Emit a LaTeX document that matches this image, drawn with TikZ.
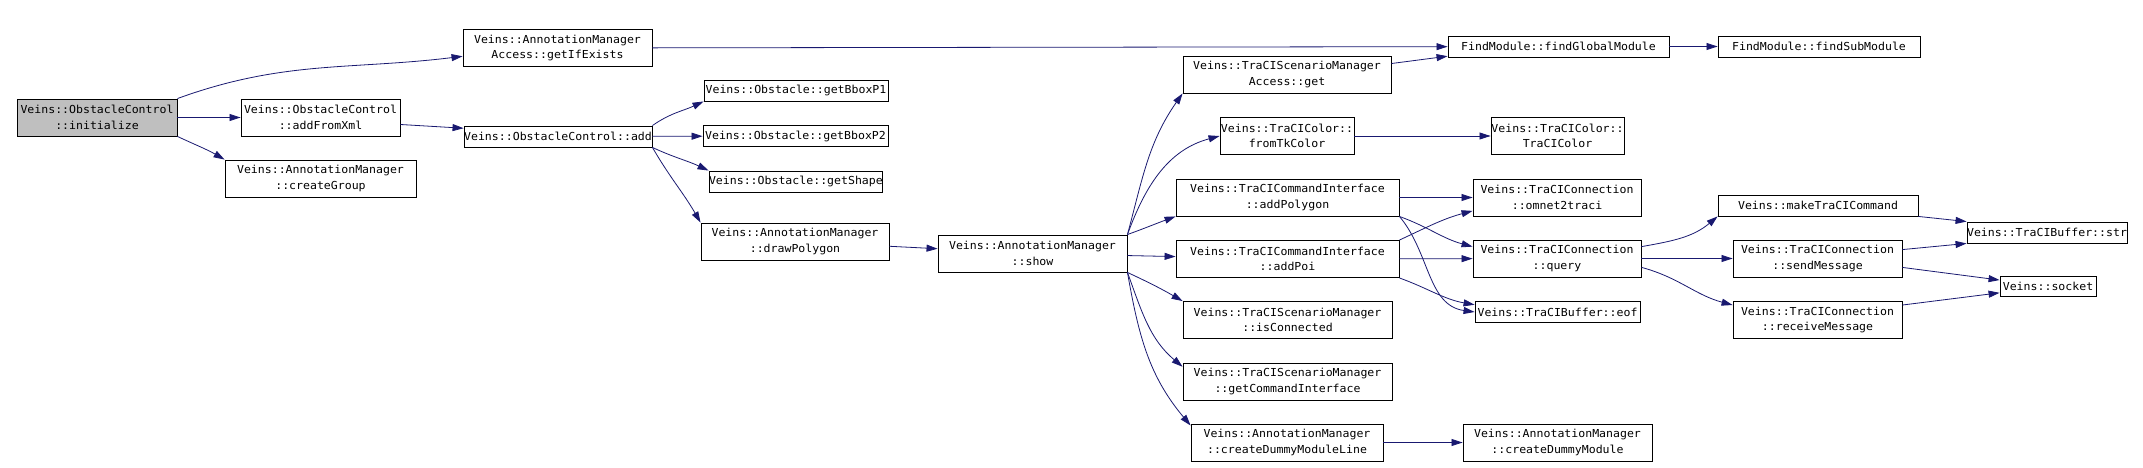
\documentclass[tikz,border=0pt]{standalone}
\usepackage{fontspec}
\setmonofont[FakeStretch=1.05, HyphenChar=None]{DejaVu Sans Mono}
\usetikzlibrary{arrows.meta}
\definecolor{edgeblue}{RGB}{25,25,112}
\definecolor{startgray}{RGB}{191,191,191}

\begin{document}
\begin{tikzpicture}[x=1pt, y=1pt]
    % Styles for boxes and arrows
    \tikzstyle{box} = [rectangle, draw, line width=0.9pt, inner sep=0pt, align=center, minimum height=37pt, font=\ttfamily\fontsize{11pt}{15.5pt}\selectfont]
    \tikzstyle{flat} = [box, minimum height=21pt]
    \tikzstyle{arrow} = [edgeblue, line width=0.8pt, -{Triangle[length=11pt, width=7pt]}]

    \useasboundingbox (0,0) rectangle (2143,-468);

    % Nodes
    \node[box, fill=startgray, text width=160pt] (init) at (97,-117.5) {Veins::ObstacleControl\\::initialize};
    \node[box, text width=189pt] (getifexists) at (557.5,-48) {Veins::AnnotationManager\\Access::getIfExists};
    \node[box, text width=159pt] (addfromxml) at (320.5,-117.5) {Veins::ObstacleControl\\::addFromXml};
    \node[box, text width=191pt] (creategroup) at (320.5,-178.5) {Veins::AnnotationManager\\::createGroup};
    \node[flat, text width=188pt] (add) at (558,-136.5) {Veins::ObstacleControl::add};
    \node[flat, text width=184pt] (bboxp1) at (796,-90.5) {Veins::Obstacle::getBboxP1};
    \node[flat, text width=185pt] (bboxp2) at (795.5,-136) {Veins::Obstacle::getBboxP2};
    \node[flat, text width=173pt] (getshape) at (795.5,-181.5) {Veins::Obstacle::getShape};
    \node[box, text width=188pt] (drawpolygon) at (795,-241.5) {Veins::AnnotationManager\\::drawPolygon};
    \node[box, text width=189pt] (show) at (1032.5,-253.5) {Veins::AnnotationManager\\::show};
    \node[box, text width=208pt] (managerget) at (1287,-74.5) {Veins::TraCIScenarioManager\\Access::get};
    \node[box, text width=134pt] (fromtk) at (1287,-136) {Veins::TraCIColor::\\fromTkColor};
    \node[box, text width=223pt] (addpolygon) at (1287.5,-197.5) {Veins::TraCICommandInterface\\::addPolygon};
    \node[box, text width=223pt] (addpoi) at (1287.5,-259) {Veins::TraCICommandInterface\\::addPoi};
    \node[box, text width=209pt] (isconnected) at (1287.5,-320) {Veins::TraCIScenarioManager\\::isConnected};
    \node[box, text width=209pt] (getcmdif) at (1287.5,-381.5) {Veins::TraCIScenarioManager\\::getCommandInterface};
    \node[box, text width=192pt] (dummyline) at (1287,-442.5) {Veins::AnnotationManager\\::createDummyModuleLine};
    \node[flat, text width=221pt] (findglobal) at (1558.5,-46.5) {FindModule::findGlobalModule};
    \node[flat, text width=202pt] (findsub) at (1819,-46.5) {FindModule::findSubModule};
    \node[box, text width=133pt] (tracicolor) at (1557.5,-136) {Veins::TraCIColor::\\TraCIColor};
    \node[box, text width=168pt] (omnet2traci) at (1557,-197.5) {Veins::TraCIConnection\\::omnet2traci};
    \node[box, text width=168pt] (query) at (1557,-258.5) {Veins::TraCIConnection\\::query};
    \node[flat, text width=165pt] (eof) at (1557.5,-312) {Veins::TraCIBuffer::eof};
    \node[box, text width=189pt] (dummymodule) at (1557.5,-442.5) {Veins::AnnotationManager\\::createDummyModule};
    \node[flat, text width=200pt] (makecmd) at (1818,-205.5) {Veins::makeTraCICommand};
    \node[box, text width=169pt] (sendmsg) at (1817.5,-258.5) {Veins::TraCIConnection\\::sendMessage};
    \node[box, text width=169pt] (recvmsg) at (1817.5,-320) {Veins::TraCIConnection\\::receiveMessage};
    \node[flat, text width=160pt] (bufstr) at (2047,-232.5) {Veins::TraCIBuffer::str};
    \node[flat, text width=96pt, minimum height=20pt] (socket) at (2048,-286) {Veins::socket};

    % Arrows
    \draw[arrow] (init.north east) to[out=20, in=187] (getifexists.185);
    \draw[arrow] (init) -- (addfromxml);
    \draw[arrow] (init.south east) to[out=-25, in=150] (creategroup.north west);
    \draw[arrow] (addfromxml.-5) -- (add.175);
    \draw[arrow] (add.north east) to[out=35, in=205] (bboxp1.south west);
    \draw[arrow] (add) -- (bboxp2);
    \draw[arrow] (add.south east) to[out=-25, in=155] (getshape.north west);
    \draw[arrow] (add.south east) to[out=-60, in=120] (drawpolygon.north west);
    \draw[arrow] (drawpolygon) -- (show);

    \draw[arrow] (show.north east) to[out=75, in=235] (managerget.south west);
    \draw[arrow] (show.north east) to[out=70, in=195] (fromtk.west);
    \draw[arrow] (show.north east) to[out=20, in=200] (addpolygon.south west);
    \draw[arrow] (show) -- (addpoi);
    \draw[arrow] (show.south east) to[out=-25, in=150] (isconnected.north west);
    \draw[arrow] (show.south east) to[out=-70, in=140] (getcmdif.172);
    \draw[arrow] (show.south east) to[out=-80, in=130] (dummyline.170);

    \draw[arrow] (getifexists) -- (findglobal);
    \draw[arrow] (managerget.6) -- (findglobal.185);
    \draw[arrow] (findglobal) -- (findsub);
    \draw[arrow] (fromtk) -- (tracicolor);

    \draw[arrow] (addpolygon) -- (omnet2traci);
    \draw[arrow] (addpolygon.south east) to[out=-20, in=165] (query.172);
    \draw[arrow] (addpolygon.south east) to[out=-50, in=172] (eof.west);
    \draw[arrow] (addpoi.north east) to[out=25, in=195] (omnet2traci.189);
    \draw[arrow] (addpoi) -- (query);
    \draw[arrow] (addpoi.south east) to[out=-20, in=170] (eof.175);

    \draw[arrow] (query.8) to[out=10, in=220] (makecmd.south west);
    \draw[arrow] (query) -- (sendmsg);
    \draw[arrow] (query.-6) to[out=-15, in=165] (recvmsg.170);
    \draw[arrow] (makecmd.south east) -- (bufstr.north west);
    \draw[arrow] (sendmsg.6) -- (bufstr.south west);
    \draw[arrow] (sendmsg.-6) -- (socket.173);
    \draw[arrow] (recvmsg.10) -- (socket.188);
    \draw[arrow] (dummyline) -- (dummymodule);
\end{tikzpicture}
\end{document}
